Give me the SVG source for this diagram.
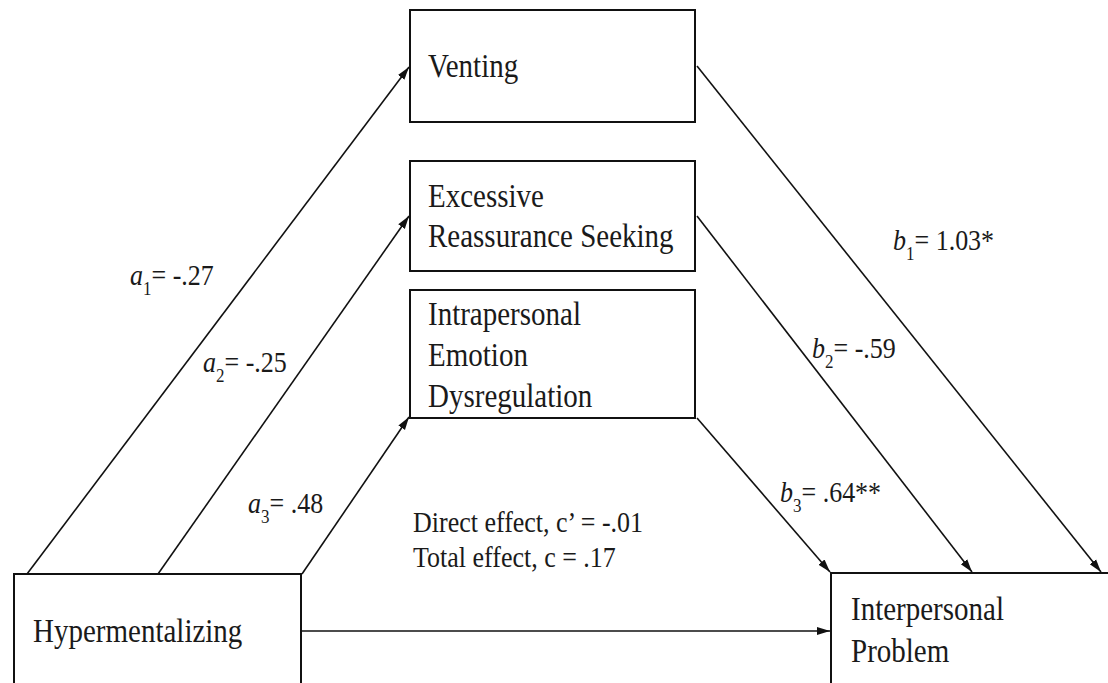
<svg xmlns="http://www.w3.org/2000/svg" width="1108" height="683" viewBox="0 0 1108 683">
<style>
.box{fill:#fff;stroke:#111;stroke-width:2}
.t{font-family:"Liberation Serif","Times New Roman",serif;font-size:29px;fill:#1a1a1a}
.l{font-family:"Liberation Serif","Times New Roman",serif;font-size:26px;fill:#1a1a1a}
.i{font-style:italic}
.s{font-size:17px}
.c{stroke:#111;stroke-width:1.6;fill:none;marker-end:url(#ah)}
</style>
<defs>
<marker id="ah" markerUnits="userSpaceOnUse" markerWidth="14" markerHeight="10" viewBox="0 0 14 10" refX="13" refY="5" orient="auto">
<path d="M0,1 L13,5 L0,9 Z" fill="#111"/>
</marker>
</defs>
<rect width="1108" height="683" fill="#fff"/>
<g id="connectors">
<line class="c" x1="27" y1="574" x2="409" y2="67"/>
<line class="c" x1="158" y1="574" x2="409" y2="216"/>
<line class="c" x1="302" y1="574" x2="409" y2="417"/>
<line class="c" x1="697" y1="66" x2="1101" y2="572"/>
<line class="c" x1="697" y1="216" x2="972" y2="572"/>
<line class="c" x1="697" y1="418" x2="830" y2="572"/>
<line class="c" x1="301" y1="631" x2="830" y2="631"/>
</g>
<g id="venting">
<rect class="box" x="410" y="10" width="285" height="112"/>
<text class="t" transform="translate(428,77) scale(1,1.15)">Venting</text>
</g>
<g id="ers">
<rect class="box" x="410" y="161" width="285" height="110"/>
<text class="t" transform="translate(428,207) scale(1,1.15)">Excessive</text>
<text class="t" transform="translate(428,247) scale(1,1.15)">Reassurance Seeking</text>
</g>
<g id="ied">
<rect class="box" x="410" y="290" width="285" height="128"/>
<text class="t" transform="translate(428,325) scale(1,1.15)">Intrapersonal</text>
<text class="t" transform="translate(428,366) scale(1,1.15)">Emotion</text>
<text class="t" transform="translate(428,407) scale(1,1.15)">Dysregulation</text>
</g>
<g id="hypermentalizing">
<rect class="box" x="14" y="574" width="287" height="130"/>
<text class="t" transform="translate(33,642) scale(1,1.15)">Hypermentalizing</text>
</g>
<g id="interpersonal">
<rect class="box" x="831" y="573" width="300" height="130"/>
<text class="t" transform="translate(851,620) scale(1,1.15)">Interpersonal</text>
<text class="t" transform="translate(851,662) scale(1,1.15)">Problem</text>
</g>
<g id="labels">
<text class="l" transform="translate(130,285) scale(1,1.15)"><tspan class="i">a</tspan><tspan class="s" dy="8.7">1</tspan><tspan dy="-8.7">= -.27</tspan></text>
<text class="l" transform="translate(203,372) scale(1,1.15)"><tspan class="i">a</tspan><tspan class="s" dy="8.7">2</tspan><tspan dy="-8.7">= -.25</tspan></text>
<text class="l" transform="translate(248,513) scale(1,1.15)"><tspan class="i">a</tspan><tspan class="s" dy="8.7">3</tspan><tspan dy="-8.7">= .48</tspan></text>
<text class="l" transform="translate(893,250) scale(1,1.15)"><tspan class="i">b</tspan><tspan class="s" dy="8.7">1</tspan><tspan dy="-8.7">= 1.03*</tspan></text>
<text class="l" transform="translate(812,358) scale(1,1.15)"><tspan class="i">b</tspan><tspan class="s" dy="8.7">2</tspan><tspan dy="-8.7">= -.59</tspan></text>
<text class="l" transform="translate(780,502) scale(1,1.15)"><tspan class="i">b</tspan><tspan class="s" dy="8.7">3</tspan><tspan dy="-8.7">= .64**</tspan></text>
<text class="l" transform="translate(413,532) scale(1,1.15)">Direct effect, c’ = -.01</text>
<text class="l" transform="translate(413,567) scale(1,1.15)">Total effect, c = .17</text>
</g>
</svg>
